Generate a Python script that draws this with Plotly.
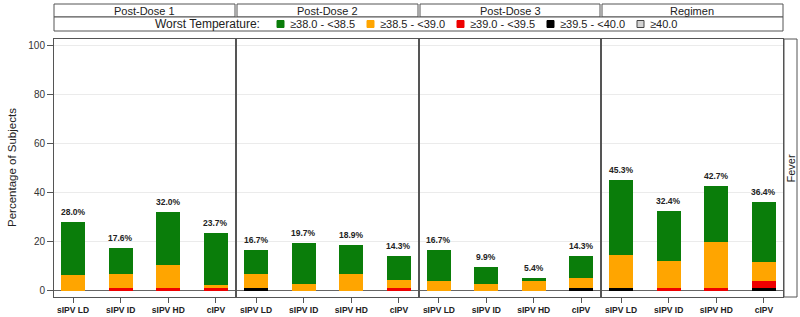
import plotly.graph_objects as go

# ---------------- data ----------------
categories = ["sIPV LD", "sIPV ID", "sIPV HD", "cIPV"]
panels = ["Post-Dose 1", "Post-Dose 2", "Post-Dose 3", "Regimen"]
series_names = ["≥38.0 - <38.5", "≥38.5 - <39.0", "≥39.0 - <39.5", "≥39.5 - <40.0", "≥40.0"]

green_38_0 = [[21.3, 10.8, 21.4, 21.1], [9.7, 16.9, 12.1, 10.0], [12.5, 7.1, 1.4, 9.1], [30.7, 20.2, 22.7, 24.7]]
orange_38_5 = [[6.7, 5.4, 9.3, 1.3], [5.6, 2.8, 6.8, 2.9], [4.2, 2.8, 4.0, 3.9], [13.3, 10.8, 18.7, 7.8]]
red_39_0 = [[0.0, 1.4, 1.3, 1.3], [0.0, 0.0, 0.0, 1.4], [0.0, 0.0, 0.0, 0.0], [0.0, 1.4, 1.3, 2.6]]
black_39_5 = [[0.0, 0.0, 0.0, 0.0], [1.4, 0.0, 0.0, 0.0], [0.0, 0.0, 0.0, 1.3], [1.3, 0.0, 0.0, 1.3]]
grey_40_0 = [[0.0, 0.0, 0.0, 0.0], [0.0, 0.0, 0.0, 0.0], [0.0, 0.0, 0.0, 0.0], [0.0, 0.0, 0.0, 0.0]]
totals = [[28.0, 17.6, 32.0, 23.7], [16.7, 19.7, 18.9, 14.3], [16.7, 9.9, 5.4, 14.3], [45.3, 32.4, 42.7, 36.4]]

y_ticks = [0, 20, 40, 60, 80, 100]

# ---------------- styling ----------------
colors = {"≥38.0 - <38.5": "#0a7d0a", "≥38.5 - <39.0": "#ffa500", "≥39.0 - <39.5": "#ee0000",
          "≥39.5 - <40.0": "#000000", "≥40.0": "#d3d3d3"}
FONT = "Arial, Liberation Sans, sans-serif"
W, H = 800, 317
L, R, T, B = 54, 783, 39, 297
FRAME = "#555555"


def px(x):
    return (x - L) / (R - L)


def py(y):
    return (B - y) / (B - T)


panel_px = [(54, 235), (237, 418), (420, 600), (602, 783)]

fig = go.Figure()

stack = [("≥40.0", grey_40_0), ("≥39.5 - <40.0", black_39_5), ("≥39.0 - <39.5", red_39_0),
         ("≥38.5 - <39.0", orange_38_5), ("≥38.0 - <38.5", green_38_0)]

annotations = []
for i in range(4):
    xa = "x" if i == 0 else f"x{i+1}"
    ya = "y" if i == 0 else f"y{i+1}"
    for name, arr in stack:
        fig.add_trace(go.Bar(x=categories, y=arr[i], name=name, marker_color=colors[name],
                             marker_line_width=0, width=0.5, xaxis=xa, yaxis=ya,
                             showlegend=False))
    for cat, tot in zip(categories, totals[i]):
        annotations.append(dict(xref=xa, yref=ya, x=cat, y=tot, text=f"{tot:.1f}%",
                                showarrow=False, xanchor="center", yanchor="bottom", yshift=3,
                                font=dict(family=FONT, size=8.5, color="#222222", weight="bold")))

layout = dict(
    width=W, height=H, barmode="stack", bargap=0,
    paper_bgcolor="white", plot_bgcolor="white",
    margin=dict(l=L, r=W - R, t=T, b=H - B, pad=0, autoexpand=False),
    font=dict(family=FONT, size=11, color="#222222"),
    showlegend=False,
)
for i in range(4):
    sfx = "" if i == 0 else str(i + 1)
    x0, x1 = panel_px[i]
    layout[f"xaxis{sfx}"] = dict(
        domain=[px(x0), px(x1)], range=[-0.4, 3.4], anchor=f"y{sfx}", automargin=False,
        showline=True, mirror=True, linecolor=FRAME, linewidth=1,
        ticks="outside", ticklen=5, tickcolor=FRAME, showgrid=False,
        tickfont=dict(family=FONT, size=8.5, color="#222222", weight="bold"),
        fixedrange=True,
    )
    layout[f"yaxis{sfx}"] = dict(
        domain=[0, 1], range=[-2.45, 102.7], anchor=f"x{sfx}", automargin=False,
        showline=True, mirror=True, linecolor=FRAME, linewidth=1,
        tickvals=y_ticks, showgrid=True, gridcolor="#ebebeb", gridwidth=1,
        zeroline=True, zerolinecolor="#666666", zerolinewidth=1,
        ticks="outside" if i == 0 else "", ticklen=6, tickcolor=FRAME,
        showticklabels=(i == 0),
        tickfont=dict(family=FONT, size=10, color="#333333"),
        fixedrange=True,
    )
fig.update_layout(**layout)

shapes = []
# y-axis title
annotations.append(dict(xref="paper", yref="paper", x=px(12), y=py((T + B) / 2),
                        text="Percentage of Subjects", textangle=-90, showarrow=False,
                        xanchor="center", yanchor="middle",
                        font=dict(family=FONT, size=11.5, color="#222222")))
# header row 1: panel titles
for i, (x0, x1) in enumerate(panel_px):
    shapes.append(dict(type="rect", xref="paper", yref="paper", x0=px(x0), x1=px(x1),
                       y0=py(17), y1=py(4), line=dict(color=FRAME, width=1), fillcolor="white"))
    annotations.append(dict(xref="paper", yref="paper", x=(px(x0) + px(x1)) / 2, y=py(10.5),
                            text=panels[i], showarrow=False, xanchor="center", yanchor="middle",
                            font=dict(family=FONT, size=11, color="#222222")))
# header row 2: legend
shapes.append(dict(type="rect", xref="paper", yref="paper", x0=px(54), x1=px(783),
                   y0=py(31), y1=py(17), line=dict(color=FRAME, width=1), fillcolor="white"))
annotations.append(dict(xref="paper", yref="paper", x=px(153), y=py(24), text="Worst Temperature:",
                        showarrow=False, xanchor="left", yanchor="middle",
                        font=dict(family=FONT, size=12, color="#222222")))
legend_x = [277, 367, 457, 547, 637]
for name, lx in zip(series_names, legend_x):
    shapes.append(dict(type="rect", xref="paper", yref="paper", x0=px(lx), x1=px(lx + 7),
                       y0=py(27.5), y1=py(20.5), fillcolor=colors[name],
                       line=dict(color="#444444" if name == "≥40.0" else colors[name], width=1)))
    annotations.append(dict(xref="paper", yref="paper", x=px(lx + 11), y=py(24), text=name,
                            showarrow=False, xanchor="left", yanchor="middle",
                            font=dict(family=FONT, size=11, color="#222222")))
# right strip "Fever"
shapes.append(dict(type="rect", xref="paper", yref="paper", x0=px(784), x1=px(797),
                   y0=py(B), y1=py(T), line=dict(color=FRAME, width=1), fillcolor="white"))
annotations.append(dict(xref="paper", yref="paper", x=px(790.5), y=py((T + B) / 2), text="Fever",
                        textangle=-90, showarrow=False, xanchor="center", yanchor="middle",
                        font=dict(family=FONT, size=11, color="#222222")))

fig.update_layout(shapes=shapes, annotations=annotations)
fig.write_html("out.html", config={"displayModeBar": False, "staticPlot": True},
               post_script="document.body.style.margin='0';document.body.style.overflow='hidden';")
